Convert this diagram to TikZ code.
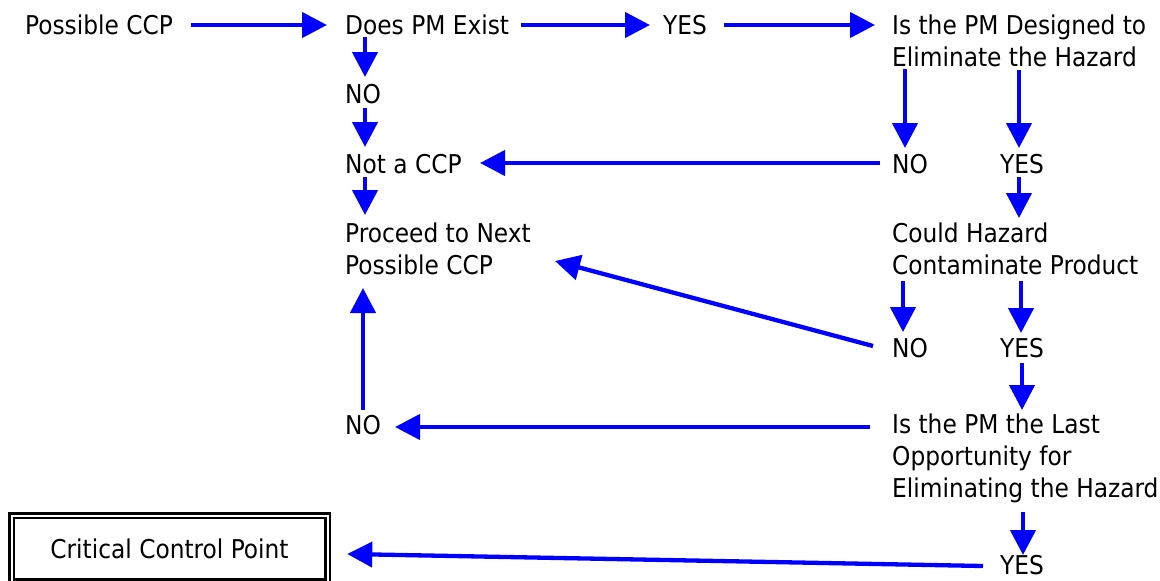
\documentclass[tikz,border=0pt]{standalone}
\usepackage{fontspec}
\setmainfont{DejaVu Sans Condensed}
\usetikzlibrary{arrows.meta,calc}
\begin{document}
\begin{tikzpicture}[x=1pt,y=-1pt,
  lbl/.style={inner sep=0pt, anchor=base west, font=\fontsize{25.9}{32}\selectfont, align=left},
  arr/.style={draw=blue, line width=4.3pt, -{Triangle[length=25pt,width=25pt]}},
  ccpbox/.style={draw=black, line width=2.5pt, double=white, double distance=2pt,
    minimum width=316pt, minimum height=66pt, inner sep=0pt, font=\fontsize{25.9}{32}\selectfont}]
\useasboundingbox (0,0) rectangle (1160,581);
\clip (0,0) rectangle (1160,581);
\fill[white] (0,0) rectangle (1160,581);
% nodes (multi-line nodes are placed by the baseline of their last line)
\node[lbl] (pccp) at (25,34) {Possible CCP};
\node[lbl] (dpm) at (345,34) {Does PM Exist};
\node[lbl] (yes1) at (663,34) {YES};
\node[lbl] (des) at (892,66) {Is the PM Designed to\\Eliminate the Hazard};
\node[lbl] (no1) at (345,103) {NO};
\node[lbl] (ncc) at (345,173) {Not a CCP};
\node[lbl] (proc) at (345,274) {Proceed to Next\\Possible CCP};
\node[lbl] (no2) at (892,173) {NO};
\node[lbl] (yes2) at (1000,173) {YES};
\node[lbl] (could) at (892,274) {Could Hazard\\Contaminate Product};
\node[lbl] (no3) at (892,357) {NO};
\node[lbl] (yes3) at (1000,357) {YES};
\node[lbl] (last) at (892,497) {Is the PM the Last\\Opportunity for\\Eliminating the Hazard};
\node[lbl] (no4) at (345,434) {NO};
\node[lbl] (yes4) at (1000,574) {YES};
\node[ccpbox] (ccp) at (169.5,548.5) {Critical Control Point};
% connectors
\draw[arr] ($(pccp.base east)+(18,-9)$) -- ($(dpm.base west)+(-18,-9)$);
\draw[arr] ($(dpm.base east)+(12,-9)$) -- ($(yes1.base west)+(-13,-9)$);
\draw[arr] ($(yes1.base east)+(17,-9)$) -- ($(des.base west)+(-17,-41)$);
\draw[arr] ($(dpm.base west)+(20,3)$) -- ($(no1.base west)+(20,-26)$);
\draw[arr] ($(no1.base west)+(20,5)$) -- ($(ncc.base west)+(20,-26)$);
\draw[arr] ($(ncc.base west)+(20,4)$) -- ($(proc.base west)+(20,-59)$);
\draw[arr] ($(no2.base west)+(-12,-10)$) -- ($(ncc.base west)+(135,-10)$);
\draw[arr] ($(des.base west)+(13,3)$) -- ($(no2.base west)+(13,-25)$);
\draw[arr] ($(des.base west)+(127,4)$) -- ($(yes2.base west)+(19,-25)$);
\draw[arr] ($(yes2.base west)+(19,4)$) -- ($(could.base west)+(127,-56)$);
\draw[arr] ($(could.base west)+(11,7)$) -- ($(no3.base west)+(11,-25)$);
\draw[arr] ($(could.base west)+(129,7)$) -- ($(yes3.base west)+(21,-24)$);
\draw[arr] ($(no3.base west)+(-19,-11)$) -- ($(proc.base west)+(210,-13)$);
\draw[arr] ($(yes3.base west)+(22,6)$) -- ($(last.base west)+(130,-87)$);
\draw[arr] ($(last.base west)+(-22,-70)$) -- ($(no4.base west)+(50,-7)$);
\draw[arr] ($(no4.base west)+(18,-24)$) -- ($(proc.base west)+(18,14)$);
\draw[arr] ($(last.base west)+(131,15)$) -- ($(yes4.base west)+(23,-19)$);
\draw[arr] ($(yes4.base west)+(-17,-8)$) -- ($(ccp.east)+(18.5,5.5)$);
\end{tikzpicture}
\end{document}
